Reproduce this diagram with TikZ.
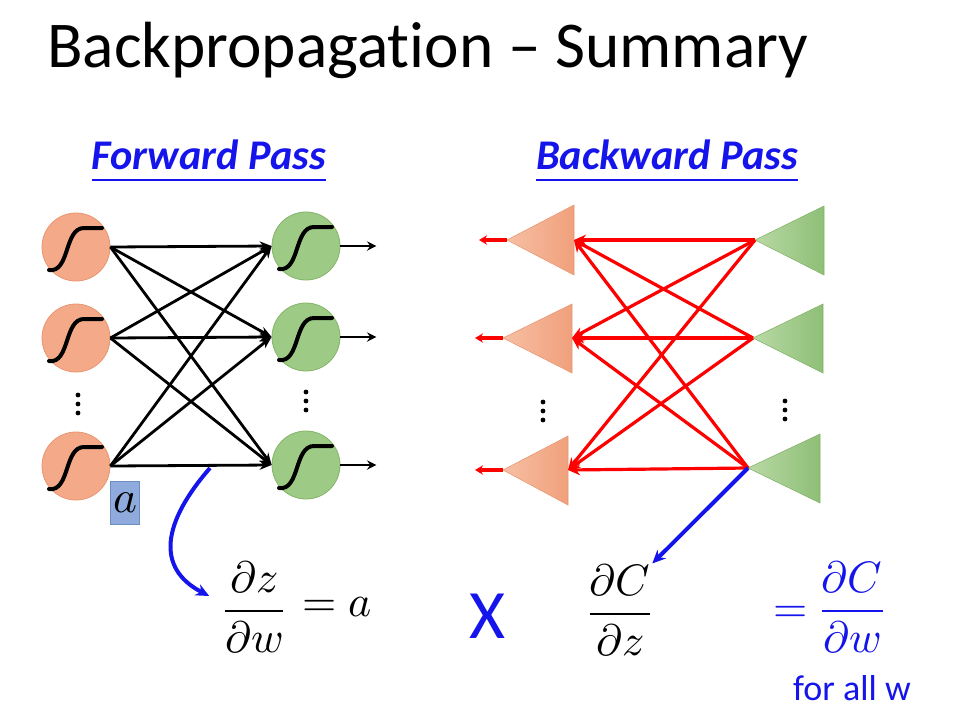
\documentclass[tikz,border=0pt]{standalone}
\usepackage{amsmath}
\usepackage{fontspec}
\usepackage{unicode-math}
\setmainfont[Ligatures=NoCommon]{Carlito}
\setmathfont{Latin Modern Math}
\usetikzlibrary{arrows.meta}
\definecolor{ofill}{HTML}{F4AA88}
\definecolor{odraw}{HTML}{E8956E}
\definecolor{gfill}{HTML}{9DCB86}
\definecolor{gdraw}{HTML}{82B366}
\definecolor{otipc}{HTML}{F7BFA3}
\definecolor{obasec}{HTML}{F0A07C}
\definecolor{gtipc}{HTML}{B9D9A5}
\definecolor{gbasec}{HTML}{8EBF77}
\definecolor{tblue}{RGB}{20,20,235}
\definecolor{abox}{HTML}{8FAADC}
\definecolor{aboxd}{HTML}{6C8EBF}
\tikzset{
  x=0.75pt, y=-0.75pt,
  oneuron/.style={circle, fill=ofill, draw=odraw, line width=0.6pt, minimum size=51pt, inner sep=0pt},
  gneuron/.style={circle, fill=gfill, draw=gdraw, line width=0.6pt, minimum size=51pt, inner sep=0pt},
  fw/.style={line width=2.1pt, -{Stealth[length=9pt,width=7pt]}},
  outar/.style={line width=2pt, -{Stealth[length=7pt,width=7pt]}},
  bw/.style={red, line width=2.4pt, -{Stealth[length=9pt,width=8pt]}},
  bout/.style={red, line width=2.4pt, -{Stealth[length=6pt,width=7pt]}},
  bluear/.style={tblue, line width=3pt, -{Stealth[length=10pt,width=9pt]}},
  sigm/.pic={\draw[line width=3pt, line cap=round] (-27,23) .. controls (-6,26) and (-12,-19) .. (8,-19) -- (26,-19);},
  dot3/.pic={\fill (0,-9) circle (2.4) (0,0) circle (2.4) (0,9) circle (2.4);},
  otri/.style={left color=otipc, right color=obasec, draw=odraw, line width=0.4pt},
  gtri/.style={left color=gtipc, right color=gbasec, draw=gdraw, line width=0.4pt},
  mathtxt/.style={inner sep=0pt, font=\fontsize{33}{38}\selectfont},
  heading/.style={anchor=base, inner sep=0pt, text=tblue, font=\fontsize{31.7}{36}\selectfont\bfseries\itshape},
}
\begin{document}
\begin{tikzpicture}
\useasboundingbox (0,0) rectangle (978,718);
% title
\node[anchor=base west, inner sep=0pt, font=\fontsize{49}{58}\selectfont] (title) at (47,67) {Backpropagation – Summary};
% headings
\node[heading] (fp) at (209,169) {Forward Pass};
\draw[tblue, line width=1.2pt] (fp.base west) ++(0,11) coordinate (fpu1) -- (fp.base east |- fpu1);
\node[heading] (bp) at (667,169) {Backward Pass};
\draw[tblue, line width=1.2pt] (bp.base west) ++(0,11) coordinate (bpu1) -- (bp.base east |- bpu1);

% forward neurons
\node[oneuron] (l1) at (76,247) {};
\node[oneuron] (l2) at (76,338) {};
\node[oneuron] (l3) at (76,466) {};
\node[gneuron] (r1) at (306,246) {};
\node[gneuron] (r2) at (306,337) {};
\node[gneuron] (r3) at (306,465) {};
\foreach \n in {l1,l2,l3,r1,r2,r3} \pic at (\n.center) {sigm};
\foreach \i in {1,2,3} \foreach \j in {1,2,3} \draw[fw] (l\i.east) -- (r\j.west);
\foreach \j in {1,2,3} \draw[outar] (r\j.east) -- ++(36,0);
\pic at (78,404) {dot3};
\pic at (306,401) {dot3};

% a box
\node[fill=abox, draw=aboxd, line width=0.6pt, minimum width=22pt, minimum height=32pt, inner sep=0pt, font=\fontsize{34}{38}\selectfont] (abx) at (125,503) {$a$};

% blue curve forward
\coordinate (fa) at (210,468);
\node[mathtxt, anchor=center] (dzdw) at (254,607) {$\dfrac{\partial z}{\partial w}$};
\node[mathtxt, anchor=west] (eqa) at (302,607) {$=a$};
\draw[bluear] (fa) .. controls (163,522) and (155,568) .. ([shift={(-14,-11)}]dzdw.west);

% X
\node[inner sep=0pt, text=tblue, font=\fontsize{52}{60}\selectfont] (X) at (487,616) {X};

% backward triangles
\coordinate (o1t) at (507,240); \coordinate (o1b) at (574,240);
\coordinate (o2t) at (503,338); \coordinate (o2b) at (572,338);
\coordinate (o3t) at (503,470); \coordinate (o3b) at (568,470);
\coordinate (g1t) at (755,240); \coordinate (g2t) at (753,338); \coordinate (g3t) at (748,468);
\path[otri] (o1t) -- (574,205) -- (574,275) -- cycle;
\path[otri] (o2t) -- (572,304) -- (572,373) -- cycle;
\path[otri] (o3t) -- (568,436) -- (568,505) -- cycle;
\path[gtri] (g1t) -- (824,206) -- (824,275) -- cycle;
\path[gtri] (g2t) -- (823,304) -- (823,373) -- cycle;
\path[gtri] (g3t) -- (820,434) -- (820,503) -- cycle;
\foreach \i in {1,2,3} \foreach \j in {1,2,3} \draw[bw] (g\i t) -- (o\j b);
\foreach \i in {1,2,3} \draw[bout] (o\i t) -- ++(-28,0);
\pic at (543,411) {dot3};
\pic at (785,410) {dot3};

% dC/dz
\node[mathtxt, anchor=center] (dcdz) at (620,610) {$\dfrac{\partial C}{\partial z}$};
\draw[bluear] (g3t) -- (dcdz.north east);
% = dC/dw
\node[mathtxt, anchor=center, text=tblue] (dcdw) at (829,607) {$=\dfrac{\partial C}{\partial w}$};
\node[anchor=base, inner sep=0pt, text=tblue, font=\fontsize{27}{32}\selectfont] (fall) at (852,700) {for all w};
\end{tikzpicture}
\end{document}
